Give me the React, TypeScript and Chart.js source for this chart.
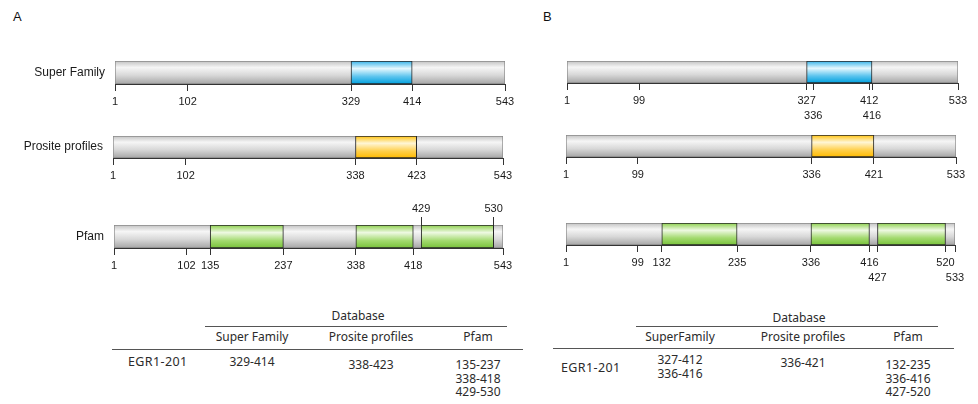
import { useEffect, useRef } from 'react';
import { Chart, registerables } from 'chart.js';

Chart.register(...registerables);

type Range = [number, number];
type Stop = [number, string];

// ---------- data ----------
const ROW_NAMES = ['Super Family', 'Prosite profiles', 'Pfam'];
const TABLE_HEADERS_A = ['Super Family', 'Prosite profiles', 'Pfam'];
const TABLE_HEADERS_B = ['SuperFamily', 'Prosite profiles', 'Pfam'];
const TABLE_TITLE = 'Database';
const TRANSCRIPT = 'EGR1-201';

const A_LENGTH = 543;
const A_LANDMARKS = [102];
const A_SUPER_FAMILY: Range[] = [[329, 414]];
const A_PROSITE: Range[] = [[338, 423]];
const A_PFAM: Range[] = [[135, 237], [338, 418], [429, 530]];
const A_PFAM_TOP_TICKS = [429, 530];

const B_LENGTH = 533;
const B_LANDMARKS = [99];
const B_SUPER_FAMILY: Range[] = [[327, 412], [336, 416]];
const B_PROSITE: Range[] = [[336, 421]];
const B_PFAM: Range[] = [[132, 235], [336, 416], [427, 520]];

// ---------- styles ----------
const GREY: Stop[] = [[0, '#c2c2c2'], [0.28, '#f6f6f6'], [0.62, '#d8d8d8'], [1, '#a6a6a6']];
const BLUE: Stop[] = [[0, '#35b2e8'], [0.33, '#e6f8fe'], [0.68, '#5cc4ee'], [1, '#00a0de']];
const ORANGE: Stop[] = [[0, '#ffc20f'], [0.33, '#fff6d6'], [0.68, '#ffd04d'], [1, '#ffba00']];
const GREEN: Stop[] = [[0, '#8ccf4c'], [0.33, '#eef9e2'], [0.68, '#a3da6f'], [1, '#78c23a']];

const DIAGRAM_FONT = 'Liberation Sans, Arial, sans-serif';
const TABLE_FONT = '"Noto Sans", "Open Sans", sans-serif';
const LINE_H = 15;
const TICK_LEN = 7;
const TOP_TICK_LEN = 8;
const MIN_LABEL_GAP = 30; // residues between labels on one line

function gradientFill(chart: any, stops: Stop[]) {
  const area = chart.chartArea;
  if (!area) return stops[1][1];
  const g = chart.ctx.createLinearGradient(0, area.top, 0, area.bottom);
  stops.forEach(([o, c]) => g.addColorStop(o, c));
  return g;
}

interface RowProps {
  name: string;
  showName: boolean;
  length: number;
  landmarks: number[];
  domains: Range[];
  colors: Stop[];
  topTicks?: number[];
  barLeft: number;
  barTop: number;
  barWidth: number;
  barHeight: number;
}

function DomainRow(p: RowProps) {
  const ref = useRef<HTMLCanvasElement>(null);
  const topTicks = p.topTicks ?? [];
  const bottomTicks = Array.from(
    new Set([1, ...p.landmarks, ...p.domains.flat(), p.length])
  )
    .filter((v) => !topTicks.includes(v))
    .sort((a, b) => a - b);

  const lineOf = new Map<number, number>();
  const lastOnLine: number[] = [];
  for (const v of bottomTicks) {
    let line = 0;
    while (lastOnLine[line] !== undefined && v - lastOnLine[line] < MIN_LABEL_GAP) line++;
    lastOnLine[line] = v;
    lineOf.set(v, line);
  }
  const lines = lastOnLine.length;

  const nameW = 100;
  const leftPad = p.showName ? nameW + 5 : 15;
  const rightPad = 15;
  const topH = topTicks.length ? TOP_TICK_LEN + 1 + LINE_H : 0;
  const bottomH = TICK_LEN + 3 + LINE_H * lines;
  const width = leftPad + p.barWidth + rightPad;
  const height = topH + p.barHeight + bottomH;

  useEffect(() => {
    if (!ref.current) return;
    const domains = p.domains;
    const tickFont = { family: DIAGRAM_FONT, size: 11, lineHeight: LINE_H + 'px' };
    const scales: any = {
      x: {
        type: 'linear',
        position: 'bottom',
        min: 1,
        max: p.length,
        bounds: 'data',
        afterBuildTicks: (s: any) => {
          s.ticks = bottomTicks.map((v) => ({ value: v }));
        },
        afterFit: (s: any) => {
          s.height = bottomH;
        },
        ticks: {
          autoSkip: false,
          maxRotation: 0,
          padding: 3,
          color: '#1a1a1a',
          font: tickFont,
          callback: (v: number) => {
            const line = lineOf.get(v) ?? 0;
            return line ? [...Array(line).fill(''), String(v)] : String(v);
          },
        },
        grid: { drawOnChartArea: false, drawTicks: true, tickLength: TICK_LEN, color: '#333', lineWidth: 1 },
        border: { display: true, color: '#333', width: 1 },
      },
      y: {
        type: 'category',
        display: p.showName,
        grid: { display: false, drawTicks: false },
        border: { display: false },
        ticks: { padding: 10, color: '#1a1a1a', font: { family: DIAGRAM_FONT, size: 12, lineHeight: LINE_H + 'px' } },
        afterFit: (s: any) => {
          s.width = p.showName ? nameW : 0;
          s.paddingTop = 0;
          s.paddingBottom = 0;
        },
      },
    };
    if (topTicks.length) {
      scales.xTop = {
        type: 'linear',
        position: 'top',
        axis: 'x',
        min: 1,
        max: p.length,
        bounds: 'data',
        afterBuildTicks: (s: any) => {
          s.ticks = topTicks.map((v) => ({ value: v }));
        },
        afterFit: (s: any) => {
          s.height = topH;
        },
        ticks: { autoSkip: false, maxRotation: 0, padding: 1, color: '#1a1a1a', font: tickFont },
        grid: { drawOnChartArea: false, drawTicks: true, tickLength: TOP_TICK_LEN, color: '#333', lineWidth: 1 },
        border: { display: false },
      };
    }

    const chart = new Chart(ref.current, {
      type: 'bar',
      data: {
        labels: [p.name],
        datasets: [
          {
            label: 'domains',
            xAxisID: 'x',
            yAxisID: 'y',
            data: domains.map((d) => ({ x: d, y: p.name })) as any,
            grouped: false,
            order: 1,
            categoryPercentage: 1,
            barPercentage: 1,
            borderSkipped: false,
            borderColor: '#262626',
            borderWidth: (ctx: any) => {
              const [s, e] = domains[ctx.dataIndex] ?? [0, 0];
              const startInside = domains.some((d, j) => j !== ctx.dataIndex && d[0] < s && s < d[1]);
              const endInside = domains.some((d, j) => j !== ctx.dataIndex && d[0] < e && e < d[1]);
              return { left: startInside ? 0 : 1, right: endInside ? 0 : 1, top: 1, bottom: 1 };
            },
            backgroundColor: (ctx: any) => gradientFill(ctx.chart, p.colors),
          } as any,
          {
            label: 'protein',
            xAxisID: 'x',
            yAxisID: 'y',
            data: [{ x: [1, p.length], y: p.name }] as any,
            grouped: false,
            order: 2,
            categoryPercentage: 1,
            barPercentage: 1,
            borderSkipped: false,
            borderColor: '#8a8a8a',
            borderWidth: 1,
            backgroundColor: (ctx: any) => gradientFill(ctx.chart, GREY),
          } as any,
        ],
      },
      options: {
        indexAxis: 'y',
        responsive: false,
        animation: false,
        devicePixelRatio: 1,
        events: [],
        layout: { padding: { left: p.showName ? 5 : 15, right: rightPad, top: 0, bottom: 0 } },
        plugins: { legend: { display: false }, tooltip: { enabled: false } },
        scales,
      } as any,
    });
    return () => chart.destroy();
  }, []);

  return (
    <canvas
      ref={ref}
      width={width}
      height={height}
      style={{ position: 'absolute', left: p.barLeft - leftPad, top: p.barTop - topH, width, height }}
    />
  );
}

interface TableProps {
  headers: string[];
  columns: Range[][];
  dbX: number;
  dbY: number;
  shortLine: [number, number, number];
  headerY: number;
  colX: number[];
  longLine: [number, number, number];
  labelX: number;
  labelY: number;
  cellY: number[];
}

const textBase: any = {
  position: 'absolute',
  fontFamily: TABLE_FONT,
  fontSize: 12,
  lineHeight: '14px',
  color: '#2b2b2b',
  whiteSpace: 'nowrap',
};

function DomainTable(t: TableProps) {
  const centered = (x: number, y: number): any => ({ ...textBase, left: x, top: y - 7, transform: 'translateX(-50%)' });
  return (
    <>
      <div style={centered(t.dbX, t.dbY)}>{TABLE_TITLE}</div>
      <div style={{ position: 'absolute', left: t.shortLine[0], top: t.shortLine[2], width: t.shortLine[1] - t.shortLine[0], height: 1, background: '#555' }} />
      {t.headers.map((h, i) => (
        <div key={h} style={centered(t.colX[i], t.headerY)}>{h}</div>
      ))}
      <div style={{ position: 'absolute', left: t.longLine[0], top: t.longLine[2], width: t.longLine[1] - t.longLine[0], height: 1, background: '#555' }} />
      <div style={{ ...textBase, left: t.labelX, top: t.labelY - 7, fontSize: 12.5, letterSpacing: '0.4px' }}>{TRANSCRIPT}</div>
      {t.columns.map((col, i) => (
        <div key={i} style={{ ...textBase, left: t.colX[i], top: t.cellY[i] - 7, transform: 'translateX(-50%)', textAlign: 'center', lineHeight: '13.5px' }}>
          {col.map(([s, e]) => (
            <div key={s + '-' + e}>{`${s}-${e}`}</div>
          ))}
        </div>
      ))}
    </>
  );
}

const letterStyle = (left: number): any => ({
  position: 'absolute',
  left,
  top: 9,
  fontFamily: DIAGRAM_FONT,
  fontSize: 13,
  lineHeight: '16px',
  color: '#111',
});

export default function App() {
  const aRows: RowProps[] = [
    { name: ROW_NAMES[0], showName: true, length: A_LENGTH, landmarks: A_LANDMARKS, domains: A_SUPER_FAMILY, colors: BLUE, barLeft: 115, barTop: 61, barWidth: 390, barHeight: 23 },
    { name: ROW_NAMES[1], showName: true, length: A_LENGTH, landmarks: A_LANDMARKS, domains: A_PROSITE, colors: ORANGE, barLeft: 113, barTop: 136, barWidth: 390, barHeight: 22 },
    { name: ROW_NAMES[2], showName: true, length: A_LENGTH, landmarks: A_LANDMARKS, domains: A_PFAM, colors: GREEN, topTicks: A_PFAM_TOP_TICKS, barLeft: 114, barTop: 225, barWidth: 389, barHeight: 23 },
  ];
  const bRows: RowProps[] = [
    { name: ROW_NAMES[0], showName: false, length: B_LENGTH, landmarks: B_LANDMARKS, domains: B_SUPER_FAMILY, colors: BLUE, barLeft: 567, barTop: 61, barWidth: 391, barHeight: 22 },
    { name: ROW_NAMES[1], showName: false, length: B_LENGTH, landmarks: B_LANDMARKS, domains: B_PROSITE, colors: ORANGE, barLeft: 566, barTop: 135, barWidth: 390, barHeight: 22 },
    { name: ROW_NAMES[2], showName: false, length: B_LENGTH, landmarks: B_LANDMARKS, domains: B_PFAM, colors: GREEN, barLeft: 566, barTop: 223, barWidth: 389, barHeight: 22 },
  ];
  return (
    <div style={{ position: 'absolute', left: 0, top: 0, width: 978, height: 404, background: '#fff', overflow: 'hidden' }}>
      <div style={letterStyle(13)}>A</div>
      <div style={letterStyle(543)}>B</div>
      {aRows.map((r) => (
        <DomainRow key={'a' + r.name} {...r} />
      ))}
      {bRows.map((r) => (
        <DomainRow key={'b' + r.name} {...r} />
      ))}
      <DomainTable
        headers={TABLE_HEADERS_A}
        columns={[A_SUPER_FAMILY, A_PROSITE, A_PFAM]}
        dbX={358}
        dbY={316}
        shortLine={[205, 507, 326]}
        headerY={337}
        colX={[252, 371, 478]}
        longLine={[112, 523, 349]}
        labelX={128}
        labelY={362}
        cellY={[362, 365, 365]}
      />
      <DomainTable
        headers={TABLE_HEADERS_B}
        columns={[B_SUPER_FAMILY, B_PROSITE, B_PFAM]}
        dbX={799}
        dbY={318}
        shortLine={[636, 938, 326]}
        headerY={337}
        colX={[680, 803, 908]}
        longLine={[553, 954, 348]}
        labelX={561}
        labelY={368}
        cellY={[360, 363, 365]}
      />
    </div>
  );
}
